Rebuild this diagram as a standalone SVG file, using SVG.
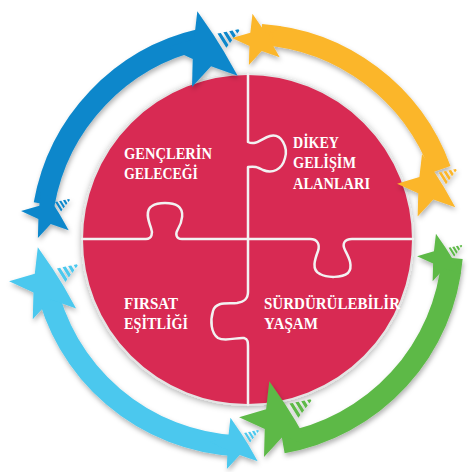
<svg xmlns="http://www.w3.org/2000/svg" width="469" height="472" viewBox="0 0 469 472">
<defs>
<filter id="sh" x="-20%" y="-20%" width="140%" height="140%"><feDropShadow dx="1" dy="3" stdDeviation="2.5" flood-color="#000" flood-opacity="0.3"/></filter>
<filter id="csh" x="-10%" y="-10%" width="120%" height="120%"><feDropShadow dx="0" dy="2" stdDeviation="3" flood-color="#000" flood-opacity="0.3"/></filter>
<g id="star">
<polygon points="34,24.7 30.9,95.1 -13,39.9 -80.9,58.8 -42,0 -80.9,-58.8 -13,-39.9 30.9,-95.1 34,-24.7"/>
<path d="M44,-20.96 L52,-17.96 L52,17.96 L44,20.96 Z M58,-15.72 L66,-12.72 L66,12.72 L58,15.72 Z M72,-10.48 L80,-7.48 L80,7.48 L72,10.48 Z M86,-5.24 L94,-2.25 L94,2.25 L86,5.24 Z"/>
</g>
</defs>
<style>
.t{font-family:"Liberation Serif","Times New Roman",serif;font-weight:bold;font-size:16px;fill:#ffffff}
.band{fill:none;stroke-width:21}
.pz{fill:none;stroke:#f2f2f2;stroke-width:2.5;stroke-linejoin:round;stroke-linecap:round}
</style>
<rect width="469" height="472" fill="#ffffff"/>
<g id="puzzle">
<circle cx="247.5" cy="239.5" r="165.5" fill="#D82A52" stroke="#e4e4e4" stroke-width="2" filter="url(#csh)"/>
<path class="pz" d="M248,74 V142 C256,146 262,138 270,136 C282,133 288,148 285,158 C282,170 272,174 263,170 C257,167 255,166 248,167 V239"/>
<path class="pz" d="M82,239 H146 C152,239 153,233 151,228 C148,220 145,210 152,206 C158,202 172,202 178,206 C185,211 182,222 178,229 C175,234 176,239 182,239 H248"/>
<path class="pz" d="M248,239 H310 C318,239 320,245 318,251 C315,259 311,270 320,274 C327,278 342,278 348,273 C354,266 348,256 345,250 C342,244 344,239 352,239 H413"/>
<path class="pz" d="M248,239 V292 C248,300 243,302 237,303 C228,304 216,301 213,311 C210,321 211,333 218,338 C225,342 238,337 244,338 C248,339 248,342 248,348 V405"/>
</g>
<g id="node-gencler"><text class="t" x="124" y="159" textLength="88" lengthAdjust="spacingAndGlyphs">GENÇLERİN</text><text class="t" x="124" y="179" textLength="74" lengthAdjust="spacingAndGlyphs">GELECEĞİ</text></g>
<g id="node-dikey"><text class="t" x="293" y="148" textLength="46" lengthAdjust="spacingAndGlyphs">DİKEY</text><text class="t" x="293" y="168" textLength="63" lengthAdjust="spacingAndGlyphs">GELİŞİM</text><text class="t" x="293" y="189" textLength="77" lengthAdjust="spacingAndGlyphs">ALANLARI</text></g>
<g id="node-firsat"><text class="t" x="124" y="309" textLength="54" lengthAdjust="spacingAndGlyphs">FIRSAT</text><text class="t" x="124" y="329" textLength="64" lengthAdjust="spacingAndGlyphs">EŞİTLİĞİ</text></g>
<g id="node-surdurulebilir"><text class="t" x="264" y="309" textLength="136" lengthAdjust="spacingAndGlyphs">SÜRDÜRÜLEBİLİR</text><text class="t" x="264" y="329" textLength="54" lengthAdjust="spacingAndGlyphs">YAŞAM</text></g>
<g id="connectors">
<g filter="url(#sh)" fill="#0B87CB">
<path class="band" stroke="#0B87CB" d="M44.1,204.2 A206,206 0 0 1 200.7,39.3"/>
<use href="#star" transform="translate(48,213) rotate(-32) scale(0.27)"/>
<use href="#star" transform="translate(207,50) rotate(-32) scale(0.40)"/>
</g>
<g filter="url(#sh)" fill="#FBB62B">
<path class="band" stroke="#FBB62B" d="M261.4,34.5 A206,206 0 0 1 440.6,169.5"/>
<use href="#star" transform="translate(259,40) rotate(-32) scale(0.27)"/>
<use href="#star" transform="translate(430,186) rotate(-32) scale(0.33)"/>
</g>
<g filter="url(#sh)" fill="#5DB947">
<path class="band" stroke="#5DB947" d="M452.2,258 A206,206 0 0 1 282.8,442.9"/>
<use href="#star" transform="translate(442,258) rotate(-32) scale(0.25)"/>
<use href="#star" transform="translate(279,420) rotate(-32) scale(0.40)"/>
</g>
<g filter="url(#sh)" fill="#4BC8EE">
<path class="band" stroke="#4BC8EE" d="M236.2,445.7 A206,206 0 0 1 45.5,282.8"/>
<use href="#star" transform="translate(237,444) rotate(-32) scale(0.27)"/>
<use href="#star" transform="translate(47,284) rotate(-32) scale(0.38)"/>
</g>
</g>
</svg>
